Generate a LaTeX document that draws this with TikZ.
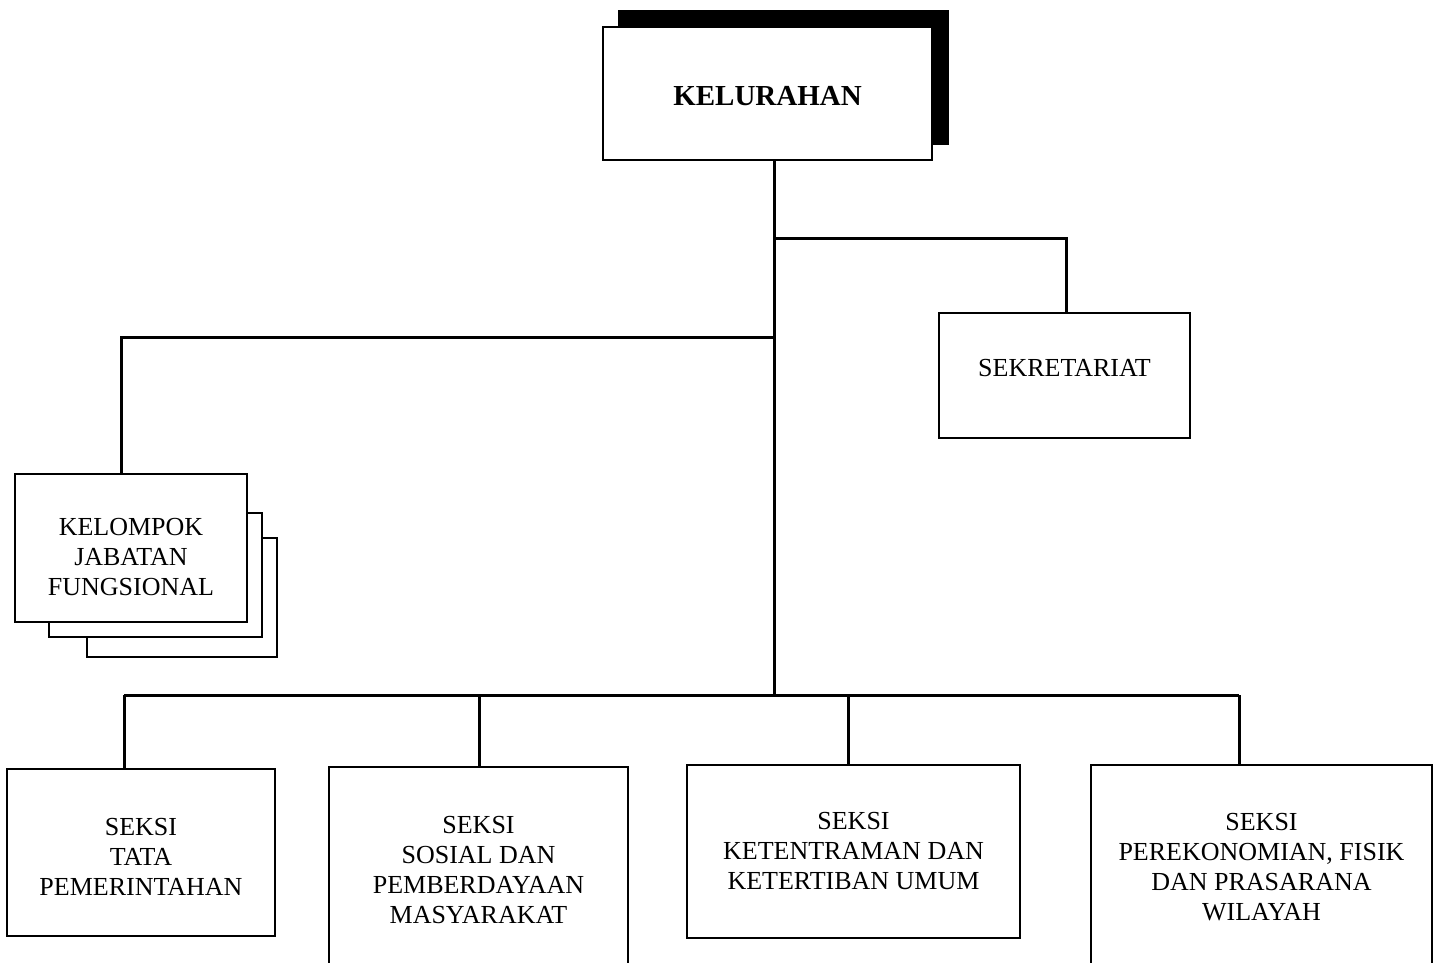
\documentclass[tikz,border=0pt]{standalone}
\usepackage{fontspec}
\setmainfont{Liberation Serif}
\begin{document}
\begin{tikzpicture}[x=1pt,y=-1pt,
  unit/.style={draw=black,line width=2pt,fill=white,inner sep=0pt},
  lbl/.style={inner sep=0pt,align=center,font=\fontsize{26}{30}\selectfont},
  conn/.style={draw=black,line width=3pt}]
\useasboundingbox (0,0) rectangle (1434,962);
\clip (0,0) rectangle (1434,962);

% head office with its solid drop shadow
\fill[black] (618,10) rectangle (949,145);
\node[unit,minimum width=329pt,minimum height=133pt] (kel) at (767.5,93.5) {};
\node[lbl,font=\fontsize{29}{34}\selectfont\bfseries] (kelt) at (767.5,96.5) {KELURAHAN};

% secretariat
\node[unit,minimum width=251pt,minimum height=125pt] (sek) at (1064.5,375.5) {};
\node[lbl] (sekt) at (1064.5,368.5) {SEKRETARIAT};

% functional group: a stack of three cards
\draw[line width=2pt,fill=white] (87,538) rectangle (277,657);
\draw[line width=2pt,fill=white] (49,513) rectangle (262,637);
\node[unit,minimum width=232pt,minimum height=148pt] (kjf) at (131,548) {};
\node[lbl] (kjft) at (131,557) {KELOMPOK\\JABATAN\\FUNGSIONAL};

% sections
\node[unit,minimum width=268pt,minimum height=167pt] (s1) at (141,852.5) {};
\node[lbl] (s1t) at (141,856.5) {SEKSI\\TATA\\PEMERINTAHAN};
\node[unit,minimum width=299pt,minimum height=204pt] (s2) at (478.5,869) {};
\node[lbl] (s2t) at (478.5,870) {SEKSI\\SOSIAL DAN\\PEMBERDAYAAN\\MASYARAKAT};
\node[unit,minimum width=333pt,minimum height=173pt] (s3) at (853.5,851.5) {};
\node[lbl] (s3t) at (853.5,851.5) {SEKSI\\KETENTRAMAN DAN\\KETERTIBAN UMUM};
\node[unit,minimum width=341pt,minimum height=201pt] (s4) at (1261.5,865.5) {};
\node[lbl] (s4t) at (1261.5,867) {SEKSI\\PEREKONOMIAN, FISIK\\DAN PRASARANA\\WILAYAH};

% junctions on the trunk and the section bus
\coordinate (j1) at (774,238);
\coordinate (j2) at (774,337);
\coordinate (bus) at (774,695);
\coordinate (d1) at (124,695);
\coordinate (d2) at (479,695);
\coordinate (d3) at (848,695);
\coordinate (d4) at (1239,695);
\coordinate (sekin) at (1066,313);
\coordinate (kjfin) at (121,474);

% connectors
\draw[conn] (kel.south -| bus) -- (bus);
\draw[conn] (j1) -| (sekin);
\draw[conn] (j2) -| (kjfin);
\draw[conn] (d1) -- (d4);
\draw[conn] (d1) -- (d1 |- s1.north);
\draw[conn] (d2) -- (d2 |- s2.north);
\draw[conn] (d3) -- (d3 |- s3.north);
\draw[conn] (d4) -- (d4 |- s4.north);
\end{tikzpicture}
\end{document}
